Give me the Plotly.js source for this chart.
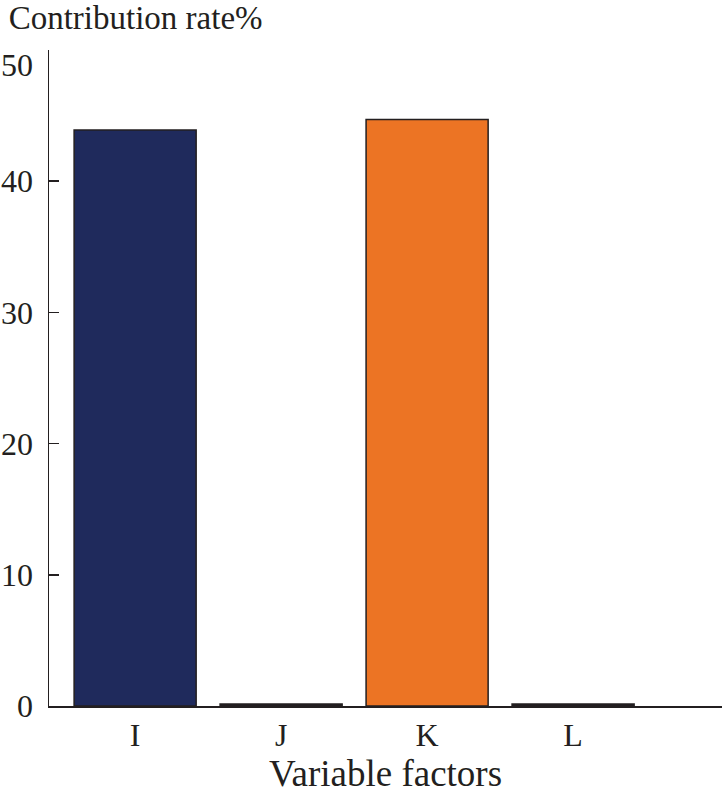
<!DOCTYPE html>
<html>
<head>
<meta charset="utf-8">
<script src="https://cdn.plot.ly/plotly-3.0.1.min.js"></script>
<style>
  html, body { margin: 0; padding: 0; background: #fff; }
  #plotArea { width: 722px; height: 798px; }
</style>
</head>
<body>
<div id="plotArea"></div>
<script>
// contribution rate of each variable factor
var factors = ["I", "J", "K", "L"];
var rates = [43.9, 0.15, 44.7, 0.15];
var barColors = ["#1f2a5c", "#231f20", "#ec7424", "#231f20"];
var yTicks = [0, 10, 20, 30, 40];
var yTop = 50;

var ink = "#231f20";
var serif = "Liberation Serif, Times New Roman, serif";

var trace = {
    x: factors,
    y: rates,
    type: "bar",
    marker: {
        color: barColors,
        line: {color: ink, width: 1.5}
    },
    hoverinfo: "none"
};

var layout = {
    width: 722,
    height: 798,
    margin: {l: 49, r: 0, t: 50, b: 92},
    paper_bgcolor: "#fff",
    plot_bgcolor: "#fff",
    showlegend: false,
    bargap: 0.164,
    font: {family: serif, color: ink},
    title: {
        text: "Contribution rate%",
        font: {family: serif, size: 33, color: ink},
        xref: "container", yref: "container",
        x: 0.012, xanchor: "left",
        y: 0.978, yanchor: "middle"
    },
    xaxis: {
        range: [-0.59, 4.02],
        showline: true,
        linecolor: ink,
        linewidth: 1.5,
        ticks: "",
        showgrid: false,
        zeroline: false,
        tickfont: {family: serif, size: 32, color: ink},
        title: {text: "Variable factors", font: {family: serif, size: 37, color: ink}, standoff: 4}
    },
    yaxis: {
        range: [0, yTop],
        tickvals: yTicks,
        showline: true,
        linecolor: ink,
        linewidth: 1.5,
        ticks: "inside",
        ticklen: 10,
        tickwidth: 1.5,
        tickcolor: ink,
        ticklabelstandoff: 8,
        showgrid: false,
        zeroline: false,
        tickfont: {family: serif, size: 32, color: ink}
    },
    annotations: [{
        // top tick label sits just under the axis end, without a tick mark
        text: String(yTop),
        xref: "paper", yref: "y",
        x: 0, y: yTop,
        xanchor: "right", yanchor: "top",
        xshift: -14, yshift: 5,
        showarrow: false,
        font: {family: serif, size: 32, color: ink}
    }]
};

Plotly.newPlot("plotArea", [trace], layout, {displayModeBar: false, staticPlot: true});
</script>
</body>
</html>
